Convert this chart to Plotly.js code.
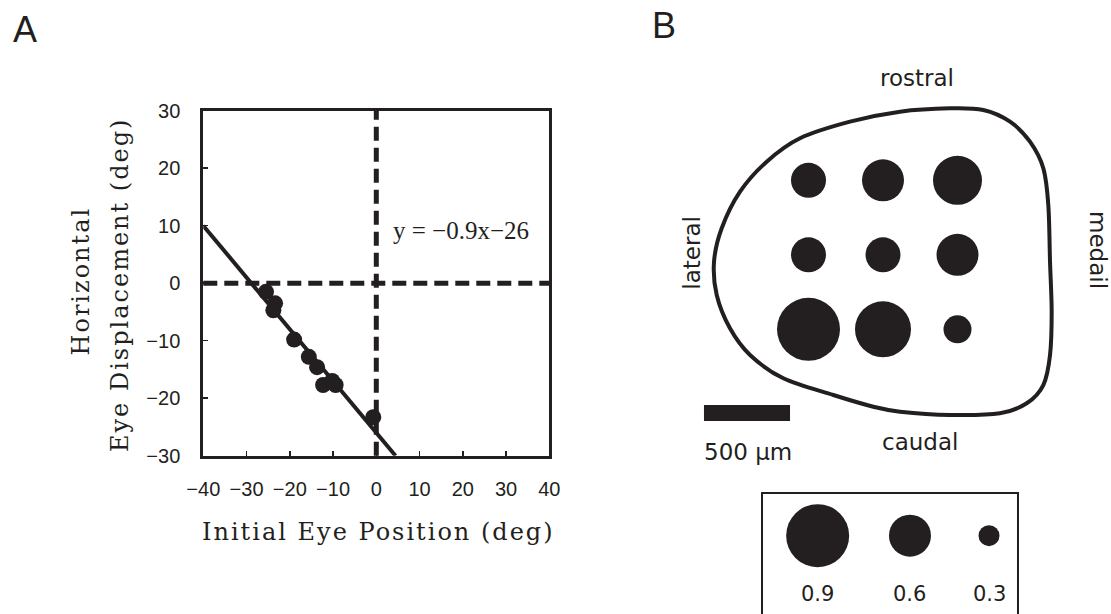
<!DOCTYPE html>
<html>
<head>
<meta charset="utf-8">
<script src="https://cdn.plot.ly/plotly-3.0.1.min.js"></script>
<style>
  html, body { margin: 0; padding: 0; background: #fff; }
  #chart { width: 1111px; height: 614px; }
</style>
</head>
<body>
<div id="chart"></div>
<script>
// ---------- Panel A: saccade displacement vs. initial eye position ----------
const initialPos   = [-25.5, -23.4, -23.8, -19.0, -15.6, -13.7, -12.3, -10.2, -9.4, -0.7];
const displacement = [-1.5, -3.5, -4.7, -9.8, -12.8, -14.6, -17.7, -17.0, -17.7, -23.3];
const fitSlope = -0.9;
const fitIntercept = -26;
const xTickVals = [-40, -30, -20, -10, 0, 10, 20, 30, 40];
const yTickVals = [-30, -20, -10, 0, 10, 20, 30];

// ---------- Panel B: stimulation sites on the map (column, row, index) ----------
const siteCol   = [1, 2, 3, 1, 2, 3, 1, 2, 3];
const siteRow   = [1, 1, 1, 2, 2, 2, 3, 3, 3];
const siteValue = [0.5, 0.6, 0.7, 0.5, 0.5, 0.6, 0.9, 0.8, 0.4];
const keyValues = [0.9, 0.6, 0.3];

const INK = '#231f20';
const W = 1111, H = 614;

// marker diameter (px) for an index value
const dotSize = v => 70 * v;

// x/y range of the fitted line inside the frame
const xRange = [-40, 40], yRange = [-30, 30];
const fitX = [xRange[0], (yRange[0] - fitIntercept) / fitSlope];
const fitY = fitX.map(x => fitSlope * x + fitIntercept);

const fmt = n => (n < 0 ? '\u2212' + Math.abs(n) : String(n));
const eqText = 'y = ' + fmt(fitSlope) + 'x' + (fitIntercept < 0 ? '\u2212' + Math.abs(fitIntercept) : '+' + fitIntercept);

// Map outline (in grid units of panel B), smoothed as a closed Catmull-Rom curve
const outline = [
  [2.228, 0.079], [1.557, 0.213], [0.886, 0.436], [0.439, 0.750], [0.081, 1.153],
  [-0.165, 1.644], [-0.268, 2.093], [-0.232, 2.540], [-0.054, 2.987], [0.215, 3.345],
  [0.662, 3.658], [1.333, 3.882], [1.870, 4.039], [2.228, 4.106], [2.899, 4.150],
  [3.570, 4.128], [3.929, 3.993], [4.152, 3.748], [4.242, 3.345], [4.264, 2.764],
  [4.242, 2.093], [4.219, 1.332], [4.152, 0.839], [3.973, 0.482], [3.705, 0.213],
  [3.346, 0.056], [2.899, 0.034]
];
function closedSpline(pts) {
  const n = pts.length;
  const P = i => pts[(i + n) % n];
  let d = 'M ' + P(0)[0] + ',' + P(0)[1];
  for (let i = 0; i < n; i++) {
    const p0 = P(i - 1), p1 = P(i), p2 = P(i + 1), p3 = P(i + 2);
    const c1 = [p1[0] + (p2[0] - p0[0]) / 6, p1[1] + (p2[1] - p0[1]) / 6];
    const c2 = [p2[0] - (p3[0] - p1[0]) / 6, p2[1] - (p3[1] - p1[1]) / 6];
    d += ' C ' + c1[0].toFixed(4) + ',' + c1[1].toFixed(4) + ' ' +
         c2[0].toFixed(4) + ',' + c2[1].toFixed(4) + ' ' +
         p2[0].toFixed(4) + ',' + p2[1].toFixed(4);
  }
  return d + ' Z';
}

// key slots along the bottom box (grid units)
const keySlotX = [1.123, 2.362, 3.423];
const keyDotY = 5.77, keyLabelY = 6.553;

const solid = { color: INK, line: { width: 0 }, opacity: 1 };

const traces = [
  { x: fitX, y: fitY, mode: 'lines', line: { color: INK, width: 4 },
    xaxis: 'x', yaxis: 'y', hoverinfo: 'skip' },
  { x: initialPos, y: displacement, mode: 'markers',
    marker: Object.assign({ size: 16 }, solid),
    xaxis: 'x', yaxis: 'y', cliponaxis: false },
  { x: siteCol, y: siteRow, mode: 'markers',
    marker: Object.assign({ size: siteValue.map(dotSize) }, solid),
    xaxis: 'x2', yaxis: 'y2', cliponaxis: false },
  { x: keySlotX, y: keyValues.map(() => keyDotY), mode: 'markers',
    marker: Object.assign({ size: keyValues.map(dotSize) }, solid),
    xaxis: 'x2', yaxis: 'y2', cliponaxis: false, hoverinfo: 'skip' }
];

const serif = 'DejaVu Serif, serif';
const sans = 'DejaVu Sans, sans-serif';
const px = v => v / W, py = v => 1 - v / H;

// centred text helper
const note = (text, xref, yref, x, y, font, extra) => Object.assign({
  text, xref, yref, x, y, xanchor: 'center', yanchor: 'middle', showarrow: false, font
}, extra || {});

const tickFont = { family: 'Liberation Sans, sans-serif', size: 20, color: INK };

const layout = {
  width: W, height: H,
  margin: { l: 0, r: 0, t: 0, b: 0, autoexpand: false },
  paper_bgcolor: '#fff', plot_bgcolor: 'rgba(0,0,0,0)',
  showlegend: false,
  font: { family: 'Liberation Sans, sans-serif', color: INK },
  xaxis: {
    domain: [px(203.3), px(549.3)], range: xRange, anchor: 'y',
    tickvals: xTickVals, ticks: 'inside', ticklen: 5, tickwidth: 1.5, tickcolor: INK,
    showline: true, linecolor: INK, linewidth: 3, mirror: true,
    showgrid: false, zeroline: false, tickfont: tickFont,
    ticklabelstandoff: 13
  },
  yaxis: {
    domain: [py(455.7), py(110.7)], range: yRange, anchor: 'x',
    tickvals: yTickVals, ticks: 'inside', ticklen: 5, tickwidth: 1.5, tickcolor: INK,
    showline: true, linecolor: INK, linewidth: 3, mirror: true,
    showgrid: false, zeroline: false, tickfont: tickFont,
    ticklabelstandoff: 16
  },
  xaxis2: { domain: [px(680), 1], range: [-0.7248, 5.0604], anchor: 'y2', visible: false },
  yaxis2: { domain: [0, 1], range: [6.8215, -1.4201], anchor: 'x2', visible: false },
  shapes: [
    // reference lines through zero
    { type: 'line', xref: 'x', yref: 'y domain', x0: 0, x1: 0, y0: 0, y1: 1,
      line: { color: INK, width: 5, dash: '14px,7px' }, layer: 'below' },
    { type: 'line', xref: 'x domain', yref: 'y', x0: 0, x1: 1, y0: 0, y1: 0,
      line: { color: INK, width: 5, dash: '14px,7px' }, layer: 'below' },
    // map outline
    { type: 'path', xref: 'x2', yref: 'y2', path: closedSpline(outline),
      line: { color: INK, width: 4 }, fillcolor: 'rgba(0,0,0,0)', layer: 'below' },
    // 500 µm scale bar
    { type: 'rect', xref: 'x2', yref: 'y2', x0: -0.403, x1: 0.752, y0: 4.016, y1: 4.231,
      line: { width: 0 }, fillcolor: INK },
    // key box
    { type: 'rect', xref: 'x2', yref: 'y2', x0: 0.376, x1: 3.812, y0: 5.197, y1: 7.2,
      line: { color: INK, width: 2 }, fillcolor: 'rgba(0,0,0,0)', layer: 'below' }
  ],
  annotations: [
    note('A', 'paper', 'paper', px(25), py(29), { family: 'Liberation Sans, sans-serif', size: 36, color: INK }),
    note('B', 'paper', 'paper', px(664), py(25), { family: 'Liberation Sans, sans-serif', size: 36, color: INK }),
    note('Horizontal', 'paper', 'paper', px(80), py(281.5), { family: serif, size: 24, color: INK }, { textangle: -90 }),
    note('Eye Displacement (deg)', 'paper', 'paper', px(120), py(285), { family: serif, size: 24, color: INK }, { textangle: -90 }),
    note('Initial Eye Position (deg)', 'paper', 'paper', px(378), py(532), { family: serif, size: 24, color: INK }),
    note(eqText, 'x', 'y', 3.4, 9.2, { family: 'Liberation Serif, serif', size: 25, color: INK }, { xanchor: 'left' }),
    note('rostral', 'x2', 'y2', 2.452, -0.369, { family: sans, size: 23, color: INK }),
    note('caudal', 'x2', 'y2', 2.497, 4.509, { family: sans, size: 23, color: INK }),
    note('lateral', 'x2', 'y2', -0.568, 1.976, { family: sans, size: 23, color: INK }, { textangle: -90 }),
    note('medail', 'x2', 'y2', 4.886, 1.936, { family: sans, size: 23, color: INK }, { textangle: 90 }),
    note('500 \u03bcm', 'x2', 'y2', 0.192, 4.643, { family: sans, size: 23, color: INK })
  ].concat(keyValues.map((v, i) =>
    note(v.toFixed(1), 'x2', 'y2', keySlotX[i], keyLabelY, { family: sans, size: 21, color: INK })
  ))
};

Plotly.newPlot('chart', traces, layout, { staticPlot: true, displayModeBar: false }).then(() => {
  // widen the serif titles a little
  document.querySelectorAll('#chart text').forEach(t => {
    if ((t.style.fontFamily || '').indexOf('DejaVu Serif') >= 0) t.style.letterSpacing = '2px';
  });
});
</script>
</body>
</html>
